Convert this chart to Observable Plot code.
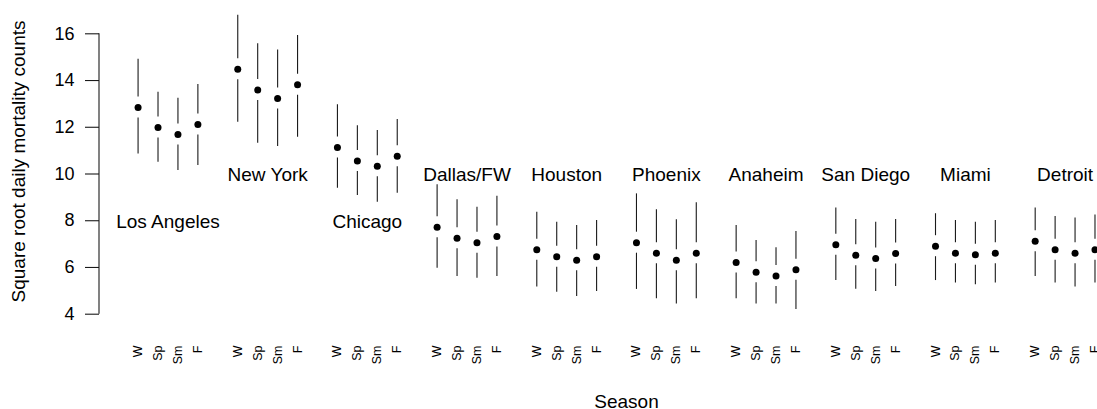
<!DOCTYPE html>
<html>
<head>
<meta charset="utf-8">
<script src="https://cdn.jsdelivr.net/npm/d3@7"></script>
<script src="https://cdn.jsdelivr.net/npm/@observablehq/plot@0.6"></script>
<style>
  html, body { margin: 0; padding: 0; background: #fff; overflow: hidden; }
</style>
</head>
<body>
<div id="chart"></div>
<script>
// Seasonal mean of square-root daily mortality counts, with interval bounds, by city.
const cities = ["Los Angeles", "New York", "Chicago", "Dallas/FW", "Houston",
                "Phoenix", "Anaheim", "San Diego", "Miami", "Detroit"];
const seasons = ["W", "Sp", "Sm", "F"];

const estimate = [
  [12.85, 11.99, 11.69, 12.12],
  [14.48, 13.59, 13.23, 13.82],
  [11.13, 10.56, 10.33, 10.76],
  [7.72, 7.25, 7.06, 7.32],
  [6.76, 6.46, 6.31, 6.46],
  [7.06, 6.61, 6.31, 6.61],
  [6.21, 5.80, 5.64, 5.90],
  [6.97, 6.52, 6.38, 6.60],
  [6.91, 6.61, 6.54, 6.61],
  [7.12, 6.76, 6.61, 6.76]
];
const upper = [
  [14.91, 13.50, 13.24, 13.83],
  [16.79, 15.57, 15.31, 15.93],
  [12.96, 12.07, 11.86, 12.33],
  [9.54, 8.90, 8.58, 9.05],
  [8.36, 7.94, 7.80, 8.01],
  [9.15, 8.47, 8.04, 8.77],
  [7.80, 7.15, 6.84, 7.54],
  [8.55, 8.05, 7.94, 8.05],
  [8.30, 8.01, 7.94, 8.01],
  [8.55, 8.18, 8.12, 8.25]
];
const lower = [
  [10.86, 10.50, 10.15, 10.36],
  [12.22, 11.32, 11.18, 11.57],
  [9.39, 9.08, 8.79, 9.18],
  [5.97, 5.61, 5.54, 5.61],
  [5.16, 4.94, 4.76, 4.97],
  [5.06, 4.66, 4.44, 4.66],
  [4.66, 4.44, 4.44, 4.20],
  [5.44, 5.07, 4.97, 5.19],
  [5.44, 5.34, 5.26, 5.34],
  [5.61, 5.34, 5.16, 5.34]
];
// Height at which each city's name is written
const labelLevel = [8, 10, 8, 10, 10, 10, 10, 10, 10, 10];
const yTicks = [4, 6, 8, 10, 12, 14, 16];

// Each city occupies five slots: four seasons plus a spacer.
const slots = cities.length * (seasons.length + 1);
const pad = 0.04 * (slots - 1);
const xDomain = [1 - pad, slots + pad];

const rows = [];
cities.forEach((city, c) => {
  seasons.forEach((season, s) => {
    rows.push({
      city, season,
      pos: c * (seasons.length + 1) + s + 1,
      mean: estimate[c][s],
      lo: lower[c][s],
      hi: upper[c][s]
    });
  });
});
const cityRows = cities.map((name, c) => ({
  name,
  center: c * (seasons.length + 1) + (seasons.length + 1) / 2,
  level: labelLevel[c]
}));

const gap = 10.5;           // break in each interval line around its point
const ink = "#1a1a1a";
const font = "'Liberation Sans', Arial, Helvetica, sans-serif";

const chart = Plot.plot({
  width: 1097,
  height: 409,
  marginLeft: 99,
  marginRight: 0,
  marginTop: 0,
  marginBottom: 64,
  x: {domain: xDomain, range: [98.5, 1153.5], axis: null},
  y: {domain: [4, 16], range: [313.7, 33.3]},
  style: {fontFamily: font, background: "#fff", color: "#000"},
  marks: [
    Plot.axisY(yTicks, {
      anchor: "left", tickSize: 14, tickPadding: 11, fontSize: 18,
      label: null, stroke: ink, strokeWidth: 1.1, fill: "#000"
    }),
    Plot.ruleX([xDomain[0]], {y1: d3.min(yTicks), y2: d3.max(yTicks), stroke: ink, strokeWidth: 1.1}),
    Plot.ruleX(rows, {x: "pos", y1: "hi", y2: "mean", insetBottom: gap, stroke: ink, strokeWidth: 1.1}),
    Plot.ruleX(rows, {x: "pos", y1: "mean", y2: "lo", insetTop: gap, stroke: ink, strokeWidth: 1.1}),
    Plot.dot(rows, {x: "pos", y: "mean", r: 3.5, fill: "#000", stroke: null}),
    Plot.text(cityRows, {x: "center", y: "level", text: "name", fontSize: 19, fill: "#000", dy: 1}),
    Plot.text(rows, {
      x: "pos", text: "season", frameAnchor: "bottom", rotate: -90,
      textAnchor: "end", lineAnchor: "middle", fontSize: 12.5, fill: "#000"
    }),
    Plot.text(["Season"], {
      x: (xDomain[0] + xDomain[1]) / 2, frameAnchor: "bottom",
      lineAnchor: "middle", dy: 56, fontSize: 19, fill: "#000"
    }),
    Plot.text(["Square root daily mortality counts"], {
      frameAnchor: "left", rotate: -90, textAnchor: "middle", lineAnchor: "middle",
      dx: -81, dy: -11.5, fontSize: 19, fill: "#000"
    })
  ]
});
document.getElementById("chart").appendChild(chart);
</script>
</body>
</html>
